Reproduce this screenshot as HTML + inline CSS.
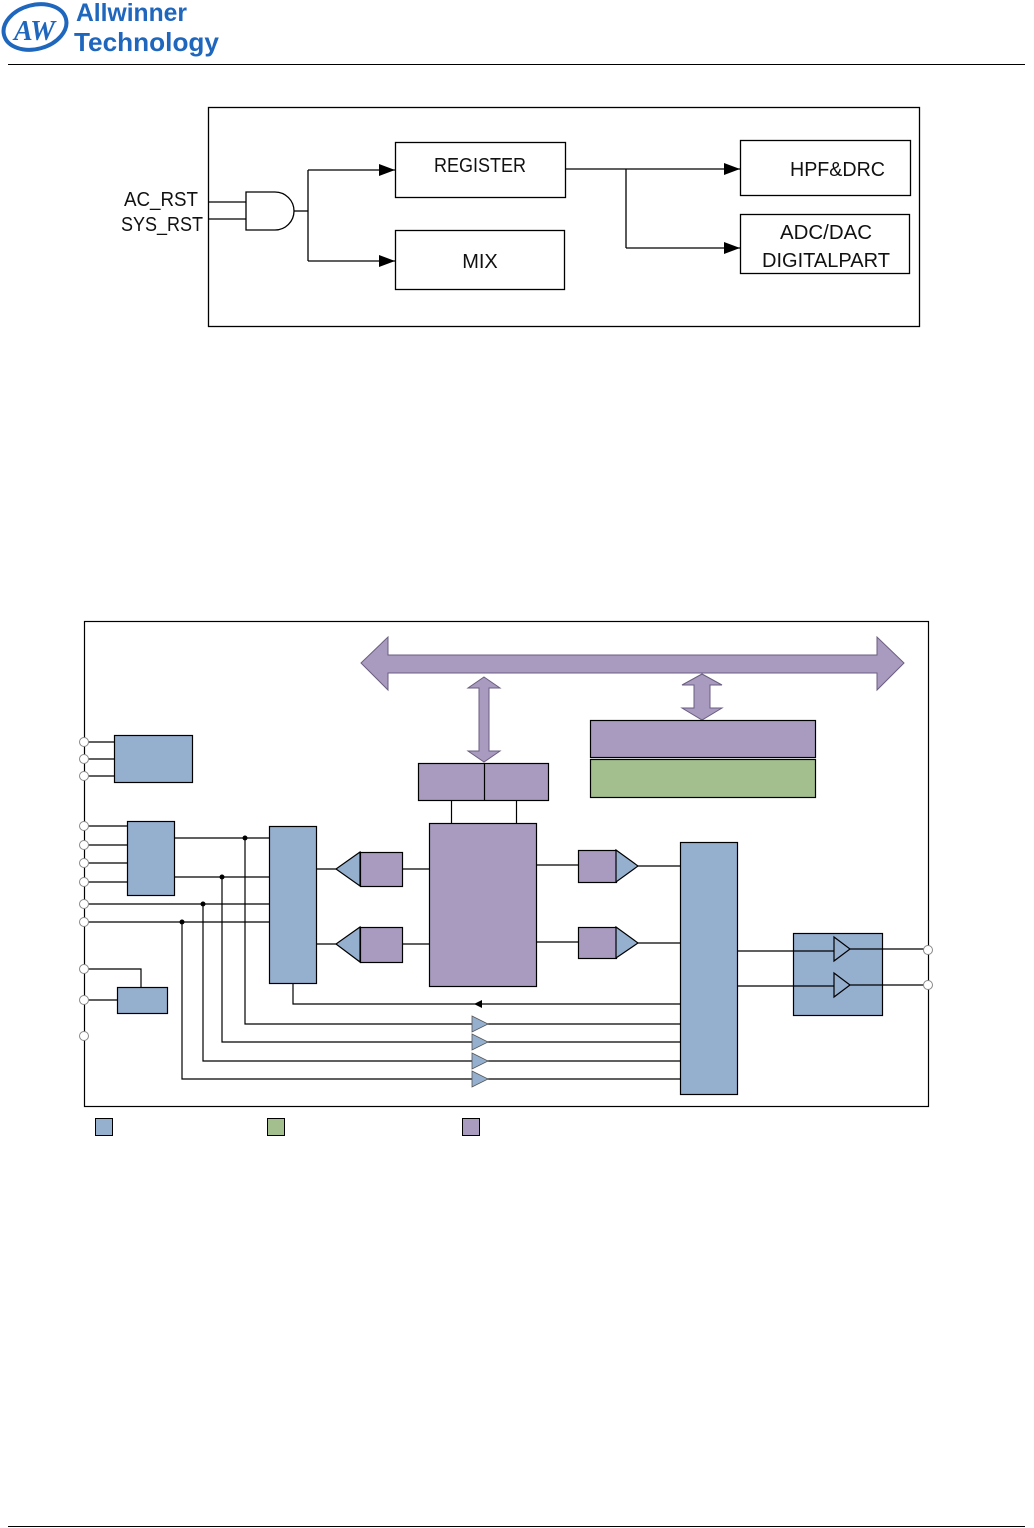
<!DOCTYPE html>
<html><head><meta charset="utf-8"><style>
html,body{margin:0;padding:0;background:#fff;}
body{width:1034px;height:1528px;position:relative;overflow:hidden;font-family:"Liberation Sans",sans-serif;}
</style></head><body>
<svg width="1034" height="1528" viewBox="0 0 1034 1528" xmlns="http://www.w3.org/2000/svg" style="position:absolute;left:0;top:0">
<!-- logo -->
<ellipse cx="35" cy="27" rx="32" ry="22" fill="none" stroke="#1f66bd" stroke-width="4" transform="rotate(-15 35 27)"/>
<text x="14" y="40" font-family="Liberation Serif,serif" font-style="italic" font-weight="bold" font-size="28" fill="#1f66bd">AW</text>
<text x="76" y="21" font-size="25" font-weight="bold" fill="#1f66bd" textLength="111" lengthAdjust="spacingAndGlyphs">Allwinner</text>
<text x="74" y="51" font-size="26" font-weight="bold" fill="#1f66bd" textLength="145" lengthAdjust="spacingAndGlyphs">Technology</text>
<line x1="8" y1="64.5" x2="1025" y2="64.5" stroke="#000" stroke-width="1"/>
<line x1="8" y1="1526.5" x2="1025" y2="1526.5" stroke="#000" stroke-width="1"/>

<defs><marker id="ah" markerWidth="16" markerHeight="12" refX="16" refY="6" orient="auto" markerUnits="userSpaceOnUse"><path d="M0,0 L16,6 L0,12z" fill="#000"/></marker></defs>
<!-- top diagram -->
<g stroke="#000" stroke-width="1.3" fill="none">
<rect x="208.5" y="107.5" width="711" height="219"/>
<line x1="208" y1="202" x2="246" y2="202"/>
<line x1="208" y1="219" x2="246" y2="219"/>
<path d="M246,192 H275 A19,19 0 0 1 275,230 H246 Z" fill="#fff"/>
<line x1="294" y1="211" x2="308" y2="211"/>
<path d="M308,170 V261"/>
<line x1="308" y1="170" x2="395" y2="170" marker-end="url(#ah)"/>
<line x1="308" y1="261" x2="395" y2="261" marker-end="url(#ah)"/>
<rect x="395.5" y="142.5" width="170" height="55"/>
<rect x="395.5" y="230.5" width="169" height="59"/>
<line x1="565" y1="169" x2="740" y2="169" marker-end="url(#ah)"/>
<path d="M626,169 V248"/>
<line x1="626" y1="248" x2="740" y2="248" marker-end="url(#ah)"/>
<rect x="740.5" y="140.5" width="170" height="55"/>
<rect x="740.5" y="214.5" width="169" height="59"/>
</g>
<g font-size="20" fill="#111">
<text x="124" y="206" textLength="74" lengthAdjust="spacingAndGlyphs">AC_RST</text>
<text x="121" y="231" textLength="82" lengthAdjust="spacingAndGlyphs">SYS_RST</text>
<text x="434" y="172" textLength="92" lengthAdjust="spacingAndGlyphs">REGISTER</text>
<text x="480" y="268" text-anchor="middle">MIX</text>
<text x="790" y="176" textLength="95" lengthAdjust="spacingAndGlyphs">HPF&amp;DRC</text>
<text x="780" y="239" textLength="92" lengthAdjust="spacingAndGlyphs">ADC/DAC</text>
<text x="762" y="267" textLength="128" lengthAdjust="spacingAndGlyphs">DIGITALPART</text>
</g>

<!-- bottom diagram -->
<g stroke="#000" stroke-width="1.2" fill="none">
<rect x="84.5" y="621.5" width="844" height="485"/>
</g>
<g fill="#a99bc0" stroke="#6b5d80" stroke-width="1">
<path d="M361,663 L388,637 L388,655 L877,655 L877,637 L904,663 L877,690 L877,673 L388,673 L388,690 Z"/>
<path d="M484,677 L500,688 L489,688 L489,751 L500,751 L484,762 L468,751 L479,751 L479,688 L468,688 Z"/>
<path d="M702,674 L722,685 L710,685 L710,708 L722,708 L702,720 L682,708 L694,708 L694,685 L682,685 Z"/>
</g>
<g stroke="#000" stroke-width="1.2">
<rect x="590.5" y="720.5" width="225" height="37" fill="#a99bc0"/>
<rect x="590.5" y="759.5" width="225" height="38" fill="#a3bf8e"/>
<rect x="418.5" y="763.5" width="130" height="37" fill="#a99bc0"/>
<line x1="484.5" y1="763" x2="484.5" y2="800"/>
<line x1="451.5" y1="800" x2="451.5" y2="823"/>
<line x1="516.5" y1="800" x2="516.5" y2="823"/>
<rect x="429.5" y="823.5" width="107" height="163" fill="#a99bc0"/>

<rect x="114.5" y="735.5" width="78" height="47" fill="#95b0cf"/>
<rect x="127.5" y="821.5" width="47" height="74" fill="#95b0cf"/>
<rect x="269.5" y="826.5" width="47" height="157" fill="#95b0cf"/>
<rect x="117.5" y="987.5" width="50" height="26" fill="#95b0cf"/>
<rect x="680.5" y="842.5" width="57" height="252" fill="#95b0cf"/>
<rect x="793.5" y="933.5" width="89" height="82" fill="#95b0cf"/>
</g>
<g stroke="#000" stroke-width="1.2" fill="none">
<path d="M84,742H114 M84,759H114 M84,776H114"/>
<path d="M84,826H127 M84,845H127 M84,863H127 M84,882H127"/>
<path d="M174,838H269 M174,877H269 M84,904H269 M84,922H269"/>
<path d="M245,838V1024H680 M222,877V1042H680 M203,904V1061H680 M182,922V1079H680"/>
<path d="M293,983V1004H680"/>
<path d="M84,969H141V987 M84,1000H117"/>
<path d="M316,869H336 M402,869H429 M316,944H336 M402,944H429"/>
<path d="M537,865H578 M638,866H680 M537,942H578 M638,943H680"/>
<path d="M737,951H834 M737,986H834 M850,949H928 M850,985H928"/>
</g>
<path d="M474,1004 L482,1000 L482,1008Z" fill="#000"/>
<g fill="#000">
<circle cx="245" cy="838" r="2.5"/><circle cx="222" cy="877" r="2.5"/><circle cx="203" cy="904" r="2.5"/><circle cx="182" cy="922" r="2.5"/>
</g>
<g fill="#95b0cf" stroke="#555" stroke-width="0.8">
<path d="M472,1016 L488,1024 L472,1032Z"/>
<path d="M472,1034 L488,1042 L472,1050Z"/>
<path d="M472,1053 L488,1061 L472,1069Z"/>
<path d="M472,1071 L488,1079 L472,1087Z"/>
</g>
<g stroke="#000" stroke-width="1.2">
<path d="M360,852 L336,869 L360,886Z" fill="#95b0cf"/>
<rect x="360.5" y="852.5" width="42" height="34" fill="#a99bc0"/>
<path d="M360,927 L336,944 L360,962Z" fill="#95b0cf"/>
<rect x="360.5" y="927.5" width="42" height="35" fill="#a99bc0"/>
<rect x="578.5" y="850.5" width="38" height="32" fill="#a99bc0"/>
<path d="M616,850 L638,866 L616,882Z" fill="#95b0cf"/>
<rect x="578.5" y="927.5" width="38" height="31" fill="#a99bc0"/>
<path d="M616,927 L638,943 L616,958Z" fill="#95b0cf"/>
<path d="M834,937 L850,949 L834,961Z" fill="#95b0cf"/>
<path d="M834,973 L850,985 L834,997Z" fill="#95b0cf"/>
</g>
<g fill="#fff" stroke="#888" stroke-width="1">
<circle cx="84" cy="742" r="4.5"/><circle cx="84" cy="759" r="4.5"/><circle cx="84" cy="776" r="4.5"/>
<circle cx="84" cy="826" r="4.5"/><circle cx="84" cy="845" r="4.5"/><circle cx="84" cy="863" r="4.5"/><circle cx="84" cy="882" r="4.5"/>
<circle cx="84" cy="904" r="4.5"/><circle cx="84" cy="922" r="4.5"/>
<circle cx="84" cy="969" r="4.5"/><circle cx="84" cy="1000" r="4.5"/><circle cx="84" cy="1036" r="4.5"/>
<circle cx="928" cy="950" r="4.5"/><circle cx="928" cy="985" r="4.5"/>
</g>
<g stroke="#000" stroke-width="1">
<rect x="95.5" y="1118.5" width="17" height="17" fill="#95b0cf"/>
<rect x="267.5" y="1118.5" width="17" height="17" fill="#a3bf8e"/>
<rect x="462.5" y="1118.5" width="17" height="17" fill="#a99bc0"/>
</g>
</svg>
</body></html>
